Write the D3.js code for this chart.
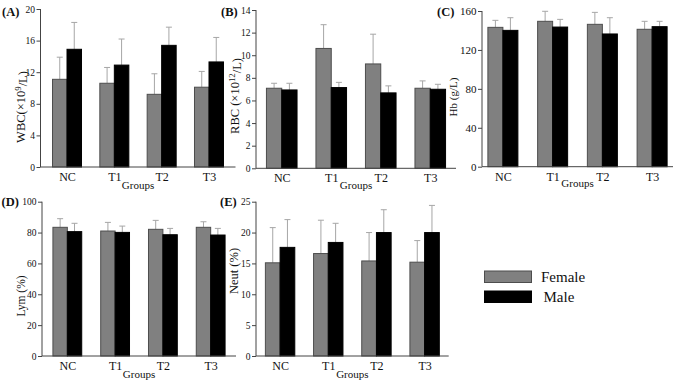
<!DOCTYPE html>
<html>
<head>
<meta charset="utf-8">
<script src="https://cdn.jsdelivr.net/npm/d3@7"></script>
<style>
  body { margin: 0; background: #fff; }
  svg text { font-family: "Liberation Serif", "Times New Roman", Times, serif; fill: #111; }
  .y-axis .tick text { font-size: 9.5px; }
  .y-axis.big .tick text { font-size: 11px; }
  .x-axis .tick text { font-size: 12px; }
  .axis-title { font-size: 11px; }
  .panel-tag { font-size: 12.5px; font-weight: bold; }
  .legend-text { font-size: 15px; }
</style>
</head>
<body>
<div id="chart"></div>
<script>
// groups and values (mean, upper error = SD)
const groups = ["NC", "T1", "T2", "T3"];

const wbcFemale = [11.1, 10.6, 9.2, 10.1];
const wbcFemaleSd = [2.8, 2.0, 2.6, 2.0];
const wbcMale = [14.9, 12.9, 15.4, 13.3];
const wbcMaleSd = [3.4, 3.3, 2.3, 3.1];

const rbcFemale = [7.08, 10.6, 9.23, 7.08];
const rbcFemaleSd = [0.44, 2.1, 2.63, 0.65];
const rbcMale = [6.93, 7.14, 6.67, 6.99];
const rbcMaleSd = [0.59, 0.46, 0.62, 0.44];

const hbFemale = [143.2, 149.4, 146.3, 141.2];
const hbFemaleSd = [7.2, 10.3, 12.3, 8.2];
const hbMale = [140.1, 143.5, 136.4, 143.9];
const hbMaleSd = [13.0, 7.9, 16.7, 5.5];

const lymFemale = [83.4, 81.0, 82.1, 83.4];
const lymFemaleSd = [5.6, 5.6, 5.8, 3.6];
const lymMale = [80.6, 80.1, 78.6, 78.4];
const lymMaleSd = [5.4, 4.1, 4.1, 4.3];

const neutFemale = [15.1, 16.6, 15.4, 15.2];
const neutFemaleSd = [5.7, 5.4, 4.6, 3.5];
const neutMale = [17.6, 18.4, 20.0, 20.0];
const neutMaleSd = [4.5, 3.1, 3.7, 4.4];

const wbcTicks = [0, 4, 8, 12, 16, 20];
const rbcTicks = [0, 2, 4, 6, 8, 10, 12, 14];
const hbTicks = [0, 40, 80, 120, 160];
const lymTicks = [0, 20, 40, 60, 80, 100];
const neutTicks = [0, 5, 10, 15, 20, 25];

const seriesNames = ["Female", "Male"];
const seriesColors = { Female: "#808080", Male: "#000000" };
const seriesStroke = { Female: "#4d4d4d", Male: "#000000" };

const width = 677, height = 380;

const svg = d3.select("#chart").append("svg")
  .attr("width", width)
  .attr("height", height);

// layout for each panel
const panels = [
  { tag: "(A)", tagX: 2, tagY: 16, x0: 40.5, x1: 235.5, pad: 0.56, yTop: 9, yBot: 167, barW: 14.5,
    domain: 20, ticks: wbcTicks, female: wbcFemale, femaleSd: wbcFemaleSd, male: wbcMale, maleSd: wbcMaleSd,
    ylab: ["WBC(×10", "9", "/L)"], ylabSize: 12.5, ylabX: 21, ylabY: 107, groupsY: 189 },
  { tag: "(B)", tagX: 221, tagY: 16, x0: 256, x1: 456, pad: 0.52, yTop: 10, yBot: 168.3, barW: 15.3,
    domain: 14, ticks: rbcTicks, female: rbcFemale, femaleSd: rbcFemaleSd, male: rbcMale, maleSd: rbcMaleSd,
    ylab: ["RBC (×10", "12", "/L)"], ylabSize: 12.5, ylabX: 235, ylabY: 96, groupsY: 189 },
  { tag: "(C)", tagX: 437, tagY: 16, x0: 482, x1: 673, pad: 0.42, yTop: 11, yBot: 166.7, barW: 15, big: true,
    domain: 160, ticks: hbTicks, female: hbFemale, femaleSd: hbFemaleSd, male: hbMale, maleSd: hbMaleSd,
    ylab: ["Hb (g/L)"], ylabSize: 11, ylabX: 453, ylabY: 97, groupsY: 187 },
  { tag: "(D)", tagX: 1.5, tagY: 206, x0: 42, x1: 236, pad: 0.53, yTop: 201.7, yBot: 356, barW: 14.4,
    domain: 100, ticks: lymTicks, female: lymFemale, femaleSd: lymFemaleSd, male: lymMale, maleSd: lymMaleSd,
    ylab: ["Lym (%)"], ylabSize: 11.5, ylabX: 21, ylabY: 296, groupsY: 378 },
  { tag: "(E)", tagX: 220, tagY: 206, x0: 256, x1: 448.7, pad: 0.5, yTop: 201.7, yBot: 356, barW: 14.7,
    domain: 25, ticks: neutTicks, female: neutFemale, femaleSd: neutFemaleSd, male: neutMale, maleSd: neutMaleSd,
    ylab: ["Neut (%)"], ylabSize: 12.5, ylabX: 234, ylabY: 271, groupsY: 378 }
];

panels.forEach(p => {
  const g = svg.append("g").attr("class", "panel");

  const x = d3.scalePoint().domain(groups).range([p.x0, p.x1]).padding(p.pad);
  const y = d3.scaleLinear().domain([0, p.domain]).range([p.yBot, p.yTop]);

  const rows = [];
  groups.forEach((grp, i) => {
    rows.push({ group: grp, series: "Female", value: p.female[i], sd: p.femaleSd[i] });
    rows.push({ group: grp, series: "Male", value: p.male[i], sd: p.maleSd[i] });
  });
  const barX = d => d.series === "Female" ? x(d.group) - p.barW : x(d.group);

  // error bars (upper only) drawn behind bars
  const err = g.append("g").attr("class", "errors");
  err.selectAll("line.whisker")
    .data(rows)
    .join("line")
    .attr("class", "whisker")
    .attr("x1", d => barX(d) + p.barW / 2)
    .attr("x2", d => barX(d) + p.barW / 2)
    .attr("y1", d => y(d.value))
    .attr("y2", d => y(d.value + d.sd))
    .attr("stroke", "#a6a6a6")
    .attr("stroke-width", 1);
  err.selectAll("line.cap")
    .data(rows)
    .join("line")
    .attr("class", "cap")
    .attr("x1", d => barX(d) + p.barW / 2 - 3)
    .attr("x2", d => barX(d) + p.barW / 2 + 3)
    .attr("y1", d => y(d.value + d.sd))
    .attr("y2", d => y(d.value + d.sd))
    .attr("stroke", "#a6a6a6")
    .attr("stroke-width", 1);

  g.append("g").attr("class", "bars")
    .selectAll("rect")
    .data(rows)
    .join("rect")
    .attr("x", barX)
    .attr("y", d => y(d.value))
    .attr("width", p.barW)
    .attr("height", d => y(0) - y(d.value))
    .attr("fill", d => seriesColors[d.series])
    .attr("stroke", d => seriesStroke[d.series])
    .attr("stroke-width", 1);

  // y axis
  const yAxis = g.append("g")
    .attr("class", p.big ? "y-axis big" : "y-axis")
    .attr("transform", `translate(${p.x0},0)`)
    .call(d3.axisLeft(y).tickValues(p.ticks).tickSize(4).tickPadding(1.5).tickFormat(d3.format("d")));
  yAxis.select(".domain").attr("stroke", "#444").attr("d", `M0,${p.yBot}V${p.yTop}`);
  yAxis.selectAll(".tick line").attr("stroke", "#444");

  // x axis
  const xAxis = g.append("g")
    .attr("class", "x-axis")
    .attr("transform", `translate(0,${p.yBot})`)
    .call(d3.axisBottom(x).tickSize(0).tickPadding(5.5));
  xAxis.select(".domain").attr("stroke", "#444").attr("d", `M${p.x0},0H${p.x1}`);

  // titles
  g.append("text")
    .attr("class", "axis-title")
    .attr("x", (x(groups[1]) + x(groups[2])) / 2)
    .attr("y", p.groupsY)
    .attr("text-anchor", "middle")
    .text("Groups");

  const yl = g.append("text")
    .attr("class", "axis-title")
    .style("font-size", p.ylabSize + "px")
    .attr("transform", `translate(${p.ylabX},${p.ylabY}) rotate(-90)`)
    .attr("text-anchor", "middle")
    .attr("dy", "0.35em");
  yl.append("tspan").text(p.ylab[0]);
  if (p.ylab.length > 1) {
    yl.append("tspan").attr("dy", "-0.45em").style("font-size", (p.ylabSize * 0.7) + "px").text(p.ylab[1]);
    yl.append("tspan").attr("dy", "0.45em").text(p.ylab[2]);
  }

  g.append("text")
    .attr("class", "panel-tag")
    .attr("x", p.tagX)
    .attr("y", p.tagY)
    .text(p.tag);
});

// legend
const legend = svg.append("g").attr("class", "legend");
const legendY = d3.scalePoint().domain(seriesNames).range([271, 291]);
legend.selectAll("rect")
  .data(seriesNames)
  .join("rect")
  .attr("x", 484.5)
  .attr("y", d => legendY(d))
  .attr("width", 47)
  .attr("height", 11.5)
  .attr("fill", d => seriesColors[d])
  .attr("stroke", d => seriesStroke[d]);
legend.selectAll("text")
  .data(seriesNames)
  .join("text")
  .attr("class", "legend-text")
  .attr("x", d => d === "Female" ? 541 : 543.5)
  .attr("y", d => legendY(d) + 11)
  .text(d => d);
</script>
</body>
</html>
